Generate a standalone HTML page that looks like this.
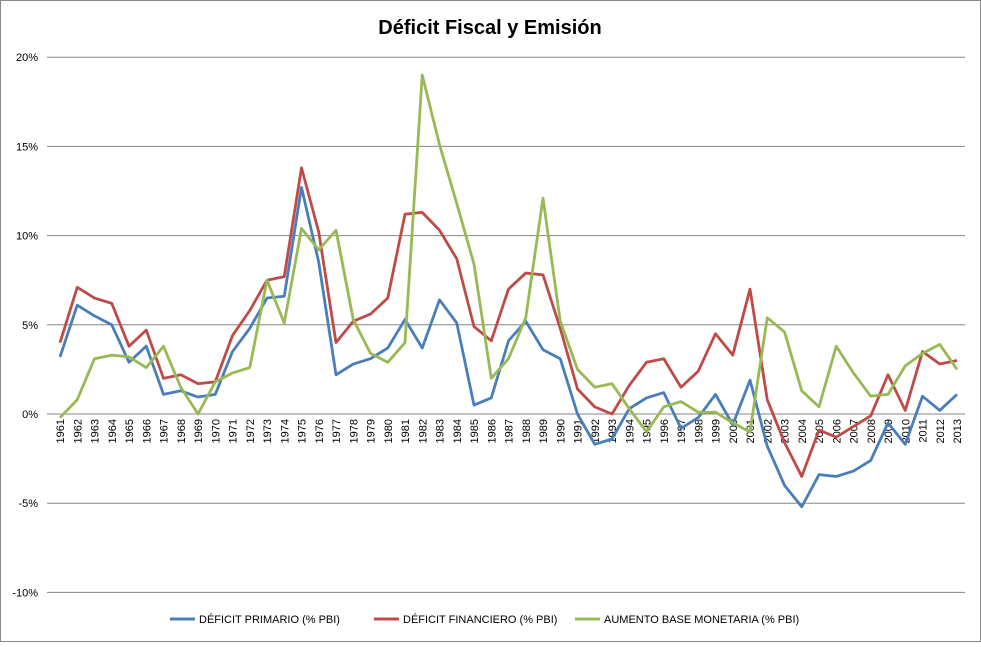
<!DOCTYPE html>
<html><head><meta charset="utf-8"><style>
body{margin:0;background:#fff;font-family:"Liberation Sans",Arial,sans-serif;}
svg text{font-family:"Liberation Sans",Arial,sans-serif;}
</style></head><body>
<svg id="c" width="981" height="642" xmlns="http://www.w3.org/2000/svg">
<rect x="0.5" y="0.5" width="980" height="641" fill="#fff" stroke="#888"/>
<text x="490" y="34" text-anchor="middle" font-size="20" font-weight="bold">Déficit Fiscal y Emisión</text>
<g id="grid"></g><g id="xl"></g><g id="series"></g>
<g>
<line x1="170" y1="619" x2="195" y2="619" stroke="#4a7ebb" stroke-width="3"/>
<text x="199" y="623" font-size="11">DÉFICIT PRIMARIO (% PBI)</text>
<line x1="374" y1="619" x2="399" y2="619" stroke="#be4b48" stroke-width="3"/>
<text x="403" y="623" font-size="11">DÉFICIT FINANCIERO  (% PBI)</text>
<line x1="575" y1="619" x2="600" y2="619" stroke="#98b954" stroke-width="3"/>
<text x="604" y="623" font-size="11">AUMENTO BASE MONETARIA (% PBI)</text>
</g>
</svg>
<script>
const years=[];for(let y=1961;y<=2013;y++)years.push(y);
const primario=[3.2,6.1,5.5,5.0,2.9,3.8,1.1,1.3,0.95,1.1,3.5,4.8,6.5,6.6,12.7,8.5,2.2,2.8,3.1,3.7,5.3,3.7,6.4,5.1,0.5,0.9,4.1,5.2,3.6,3.1,0,-1.7,-1.4,0.3,0.9,1.2,-0.8,-0.2,1.1,-0.6,1.9,-1.8,-4.0,-5.2,-3.4,-3.5,-3.2,-2.6,-0.5,-1.7,1.0,0.2,1.1];
const financiero=[4.0,7.1,6.5,6.2,3.8,4.7,2.0,2.2,1.7,1.8,4.4,5.8,7.5,7.7,13.8,10.2,4.0,5.2,5.6,6.5,11.2,11.3,10.3,8.7,4.9,4.1,7.0,7.9,7.8,4.8,1.4,0.4,0.0,1.6,2.9,3.1,1.5,2.4,4.5,3.3,7.0,0.8,-1.6,-3.5,-0.9,-1.3,-0.7,-0.1,2.2,0.2,3.5,2.8,3.0];
const baseMonetaria=[-0.2,0.8,3.1,3.3,3.2,2.6,3.8,1.5,0.0,1.8,2.3,2.6,7.5,5.1,10.4,9.2,10.3,5.3,3.4,2.9,4.0,19.0,15.1,11.8,8.4,2.0,3.1,5.4,12.1,5.2,2.5,1.5,1.7,0.3,-1.0,0.4,0.7,0.1,0.1,-0.5,-1.0,5.4,4.6,1.3,0.4,3.8,2.3,1.0,1.1,2.7,3.4,3.9,2.5];
const yTicks=[20,15,10,5,0,-5,-10];
const NS="http://www.w3.org/2000/svg";
const X0=60,X1=957,Y0=414,PX=17.84;
const xs=i=>X0+i*(X1-X0)/(years.length-1);
const ys=v=>Y0-v*PX;
function mk(t,a,p){const e=document.createElementNS(NS,t);for(const k in a)e.setAttribute(k,a[k]);p.appendChild(e);return e;}
const grid=document.getElementById('grid');
yTicks.forEach(v=>{
 const l=mk('line',{x1:47,x2:965,y1:ys(v),y2:ys(v),stroke:'#868686','stroke-width':1},grid);
 
 
 const t=mk('text',{x:38,y:ys(v)+4,'text-anchor':'end','font-size':11},grid);
 t.textContent=v+'%';
 
 
});
const xl=document.getElementById('xl');
years.forEach((y,i)=>{
 const t=mk('text',{transform:`translate(${xs(i)+4},${Y0+5}) rotate(-90)`,'text-anchor':'end','font-size':11},xl);
 t.textContent=y;
 
 
});
const sg=document.getElementById('series');
[[primario,'#4a7ebb','line-deficit-primario'],[financiero,'#be4b48','line-deficit-financiero'],[baseMonetaria,'#98b954','line-base-monetaria']].forEach(([d,c,n])=>{
 const p=mk('polyline',{points:d.map((v,i)=>xs(i)+','+ys(v)).join(' '),fill:'none',stroke:c,'stroke-width':2.8,'stroke-linejoin':'round'},sg);
 
 
});
</script>
</body></html>
